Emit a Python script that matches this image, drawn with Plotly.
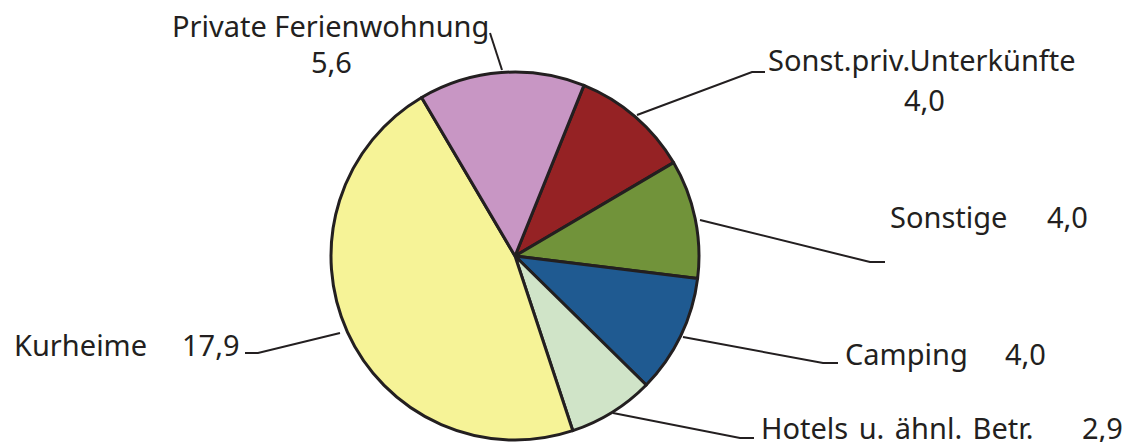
import plotly.graph_objects as go

W, H = 1127, 442

labels = ["Sonst.priv.Unterkünfte", "Sonstige", "Camping", "Hotels u. ähnl. Betr.", "Kurheime", "Private Ferienwohnung"]
values = [4.0, 4.0, 4.0, 2.9, 17.9, 5.6]
value_text = ["4,0", "4,0", "4,0", "2,9", "17,9", "5,6"]
colors = ["#952224", "#71933A", "#1F5A91", "#D0E4C8", "#F6F397", "#C896C4"]

INK = "#231F20"
FONT = "Noto Sans"
FS = 29

def px(x):
    return x / W

def py(y):
    return 1 - y / H

cx, cy, r = 515, 256, 184

fig = go.Figure(go.Pie(
    labels=labels, values=values, sort=False, direction="clockwise", rotation=22,
    marker=dict(colors=colors, line=dict(color=INK, width=3)),
    textinfo="none", hoverinfo="label+value", showlegend=False,
    domain=dict(x=[px(cx) - 0.3, px(cx) + 0.3], y=[py(cy) - r / H, py(cy) + r / H]),
))

# label placements: (text, x, y, xanchor)
placements = [
    (labels[5], 330, 25, "center"),
    (value_text[5], 331, 62, "center"),
    (labels[0], 766, 60, "left"),
    (value_text[0], 924, 100, "center"),
    (labels[1], 888, 216, "left"),
    (value_text[1], 1045, 216, "left"),
    (labels[2], 843, 353, "left"),
    (value_text[2], 1003, 353, "left"),
    (labels[3].replace(" ", " \u200a"), 759, 427, "left"),
    (value_text[3], 1080, 427, "left"),
    (labels[4], 12, 344, "left"),
    (value_text[4], 180, 344, "left"),
]
for t, x, y, xa in placements:
    fig.add_annotation(text=t, x=px(x), y=py(y), xref="paper", yref="paper",
                       xanchor=xa, yanchor="middle", showarrow=False,
                       font=dict(family=FONT, size=FS, color=INK))

leaders = [
    [(502, 70), (490, 33)],
    [(637, 115), (752, 72), (765, 72)],
    [(700, 220), (870, 262), (885, 262)],
    [(683, 337), (823, 363), (838, 363)],
    [(613, 413), (740, 438), (754, 438)],
    [(340, 333), (258, 353), (245, 353)],
]
for pts in leaders:
    path = "M " + " L ".join(f"{px(x)},{py(y)}" for x, y in pts)
    fig.add_shape(type="path", path=path, xref="paper", yref="paper",
                  line=dict(color=INK, width=2))

fig.update_layout(width=W, height=H, margin=dict(l=0, r=0, t=0, b=0),
                  paper_bgcolor="white", plot_bgcolor="white")
fig.write_html("out.html", config={"displayModeBar": False},
               post_script="document.body.style.margin='0';document.body.style.overflow='hidden';")
